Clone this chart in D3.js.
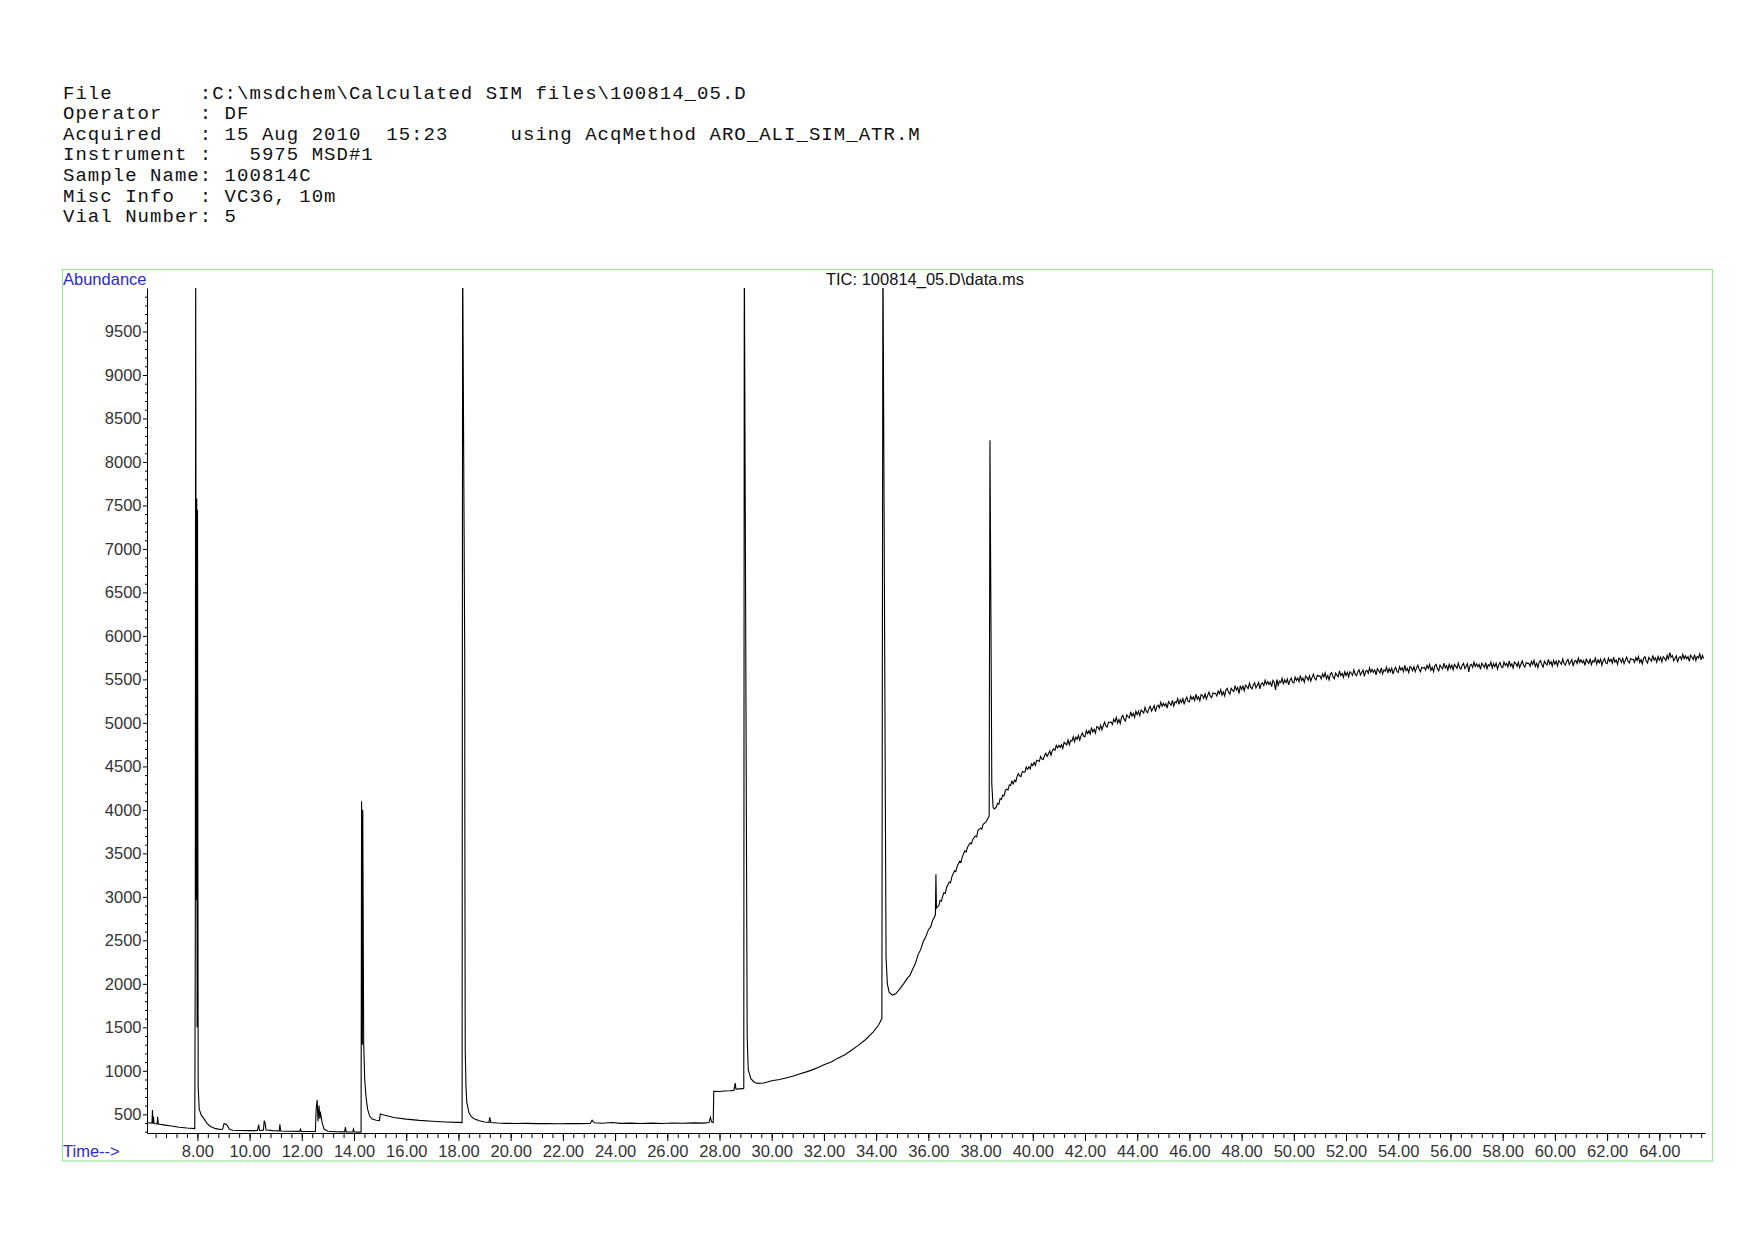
<!DOCTYPE html>
<html lang="en">
<head>
<meta charset="UTF-8">
<title>TIC: 100814_05.D\data.ms</title>
<script src="https://cdn.jsdelivr.net/npm/d3@7"></script>
<style>
  body { margin: 0; background: #fff; }
  svg text { font-family: "Liberation Sans", Arial, sans-serif; }
  .header text { font-family: "Liberation Mono", "Courier New", monospace; white-space: pre; }
</style>
</head>
<body>
<svg id="chart" width="1754" height="1240"></svg>
<script>
// report header
const headerLines = [
  "File       :C:\\msdchem\\Calculated SIM files\\100814_05.D",
  "Operator   : DF",
  "Acquired   : 15 Aug 2010  15:23     using AcqMethod ARO_ALI_SIM_ATR.M",
  "Instrument :   5975 MSD#1",
  "Sample Name: 100814C",
  "Misc Info  : VC36, 10m",
  "Vial Number: 5"
];
const plotTitle = "TIC: 100814_05.D\\data.ms";

// axis ticks
const yLabels = [500, 1000, 1500, 2000, 2500, 3000, 3500, 4000, 4500, 5000, 5500, 6000, 6500, 7000, 7500, 8000, 8500, 9000, 9500];
const xLabels = [8, 10, 12, 14, 16, 18, 20, 22, 24, 26, 28, 30, 32, 34, 36, 38, 40, 42, 44, 46, 48, 50, 52, 54, 56, 58, 60, 62, 64];

// scans: [time (min), abundance], 6.07 -> 38.53 min
const earlyScans = [
  [6.07, 405], [6.18, 400], [6.26, 398], [6.28, 550], [6.30, 396], [6.32, 470], [6.34, 394],
  [6.46, 390], [6.48, 472], [6.50, 388], [6.7, 378], [7.0, 365], [7.3, 352], [7.6, 342], [7.9, 335],
  [7.92, 2510], [7.935, 10500], [7.96, 2960], [7.975, 7580], [7.99, 1500], [8.005, 7450], [8.03, 820],
  [8.07, 560], [8.15, 490], [8.25, 450], [8.37, 395], [8.5, 360], [8.7, 335], [8.9, 325],
  [8.97, 330], [9.02, 392], [9.1, 385], [9.15, 370], [9.22, 330], [9.35, 316], [9.6, 314], [10.0, 312],
  [10.3, 313], [10.35, 380], [10.38, 314], [10.53, 318], [10.56, 427], [10.6, 390], [10.63, 320],
  [10.9, 312], [11.14, 310], [11.16, 385], [11.19, 308], [11.5, 305], [11.92, 304], [11.95, 330],
  [11.98, 303], [12.3, 302], [12.52, 302],
  [12.55, 560], [12.59, 664], [12.62, 420], [12.66, 600], [12.69, 450], [12.71, 530], [12.77, 415],
  [12.85, 330], [13.0, 305], [13.3, 300], [13.64, 298], [13.67, 354], [13.7, 298], [13.95, 296],
  [13.98, 330], [14.01, 296], [14.27, 295],
  [14.29, 4100], [14.32, 1300], [14.335, 4000], [14.37, 1320], [14.41, 900], [14.46, 700], [14.52, 560],
  [14.6, 480], [14.7, 445], [14.85, 432], [14.97, 428], [15.01, 504], [15.1, 495], [15.3, 480],
  [15.52, 464], [16.0, 445], [16.5, 430], [17.0, 420], [17.5, 412], [18.0, 407], [18.14, 405],
  [18.16, 10500], [18.24, 5800], [18.245, 3840], [18.26, 1230], [18.29, 800], [18.32, 640], [18.4, 520],
  [18.5, 470], [18.6, 450], [18.8, 425], [19.0, 412], [19.17, 408], [19.2, 465], [19.24, 406],
  [19.5, 400], [19.8, 396], [20.2, 394], [20.6, 396], [21.0, 393], [21.4, 395], [21.8, 392],
  [22.2, 394], [22.6, 393], [23.05, 395], [23.12, 433], [23.2, 402], [23.5, 397], [23.9, 405],
  [24.2, 396], [24.6, 398], [25.0, 394], [25.4, 399], [25.8, 395], [26.2, 400], [26.6, 397],
  [27.0, 401], [27.4, 398], [27.6, 405], [27.65, 464], [27.7, 410], [27.76, 405],
  [27.78, 763], [28.0, 762], [28.2, 768], [28.4, 770], [28.55, 775], [28.6, 858], [28.63, 790],
  [28.9, 795], [28.93, 800],
  [28.95, 10500], [29.06, 1400], [29.1, 1016], [29.2, 910], [29.33, 869], [29.45, 855], [29.7, 860],
  [30.0, 885], [30.3, 900], [30.5, 915], [30.8, 938], [31.0, 958], [31.3, 985], [31.5, 1005],
  [31.8, 1040], [32.0, 1070], [32.3, 1105], [32.5, 1140], [32.8, 1185], [33.0, 1225], [33.3, 1290],
  [33.6, 1360], [33.9, 1450], [34.1, 1530], [34.22, 1600],
  [34.26, 10500], [34.36, 3610], [34.38, 2300], [34.43, 2000], [34.5, 1900], [34.62, 1870],
  [34.75, 1885], [34.9, 1940], [35.05, 2000], [35.2, 2065], [35.3, 2100], [35.4, 2170], [35.5, 2230],
  [35.6, 2330], [35.7, 2390], [35.8, 2480], [35.9, 2540], [36.0, 2620], [36.1, 2660], [36.15, 2720],
  [36.27, 2790], [36.29, 3260], [36.31, 2870], [36.4, 2900], [36.45, 2960], [36.5, 2950], [36.55, 3010],
  [36.6, 3050], [36.65, 3040], [36.7, 3110], [36.8, 3170], [36.85, 3160], [36.9, 3230], [37.0, 3300],
  [37.05, 3290], [37.1, 3350], [37.2, 3410], [37.25, 3400], [37.3, 3460], [37.4, 3530], [37.45, 3515],
  [37.5, 3570], [37.6, 3620], [37.65, 3610], [37.7, 3660], [37.8, 3700], [37.85, 3690], [37.9, 3765],
  [38.0, 3790], [38.05, 3780], [38.1, 3835], [38.2, 3860], [38.28, 3900], [38.33, 3930],
  [38.36, 8250], [38.41, 5550], [38.43, 4300], [38.48, 4030], [38.53, 4010]
];

// noisy tail, one reading every 0.05 min from 38.60 min (one line per minute)
const tailStart = 38.6;
const tailStep = 0.05;
const tailAbund = [
  4030, 4075, 4065, 4130, 4120, 4170, 4160, 4225,
  4237, 4230, 4287, 4280, 4330, 4299, 4342, 4324, 4388, 4417, 4389, 4384, 4442, 4436, 4434, 4492, 4465, 4495, 4471, 4529,
  4508, 4546, 4513, 4571, 4565, 4556, 4614, 4584, 4579, 4625, 4652, 4614, 4644, 4679, 4629, 4683, 4702, 4684, 4742, 4712,
  4742, 4719, 4749, 4707, 4777, 4763, 4748, 4805, 4749, 4797, 4791, 4840, 4784, 4837, 4812, 4856, 4802, 4854, 4884, 4846,
  4840, 4912, 4878, 4910, 4871, 4948, 4895, 4926, 4883, 4959, 4951, 4922, 4974, 4921, 4967, 5009, 4965, 4952, 5009, 5005,
  5010, 4981, 5041, 5012, 5062, 4998, 5038, 4994, 5064, 5085, 5040, 5021, 5091, 5072, 5057, 5128, 5078, 5109, 5064, 5135,
  5095, 5135, 5084, 5149, 5133, 5113, 5178, 5132, 5117, 5166, 5191, 5136, 5165, 5200, 5129, 5189, 5204, 5173, 5238, 5192,
  5225, 5194, 5222, 5171, 5244, 5223, 5202, 5260, 5194, 5242, 5231, 5280, 5213, 5267, 5235, 5279, 5213, 5266, 5295, 5248,
  5240, 5308, 5271, 5299, 5257, 5330, 5273, 5301, 5254, 5327, 5315, 5283, 5331, 5274, 5317, 5355, 5308, 5291, 5344, 5337,
  5340, 5309, 5367, 5336, 5384, 5318, 5357, 5310, 5379, 5397, 5351, 5330, 5398, 5377, 5360, 5429, 5378, 5406, 5335, 5428,
  5385, 5423, 5370, 5433, 5415, 5393, 5455, 5408, 5390, 5438, 5460, 5403, 5430, 5463, 5390, 5448, 5460, 5428, 5490, 5443,
  5475, 5442, 5469, 5416, 5488, 5465, 5380, 5499, 5431, 5478, 5465, 5512, 5444, 5496, 5463, 5505, 5437, 5489, 5516, 5468,
  5460, 5527, 5489, 5516, 5473, 5545, 5487, 5514, 5466, 5538, 5525, 5492, 5539, 5481, 5523, 5560, 5512, 5494, 5546, 5538,
  5540, 5506, 5563, 5529, 5576, 5507, 5544, 5495, 5562, 5578, 5530, 5506, 5573, 5549, 5531, 5597, 5544, 5570, 5522, 5588,
  5545, 5581, 5528, 5589, 5571, 5547, 5609, 5560, 5542, 5588, 5610, 5551, 5578, 5609, 5536, 5592, 5604, 5570, 5632, 5583,
  5615, 5581, 5607, 5553, 5624, 5600, 5576, 5632, 5563, 5609, 5595, 5641, 5572, 5623, 5589, 5630, 5561, 5612, 5638, 5589,
  5580, 5646, 5607, 5633, 5589, 5660, 5601, 5627, 5578, 5649, 5635, 5601, 5647, 5588, 5629, 5665, 5616, 5587, 5638, 5629,
  5640, 5606, 5661, 5627, 5673, 5604, 5639, 5590, 5656, 5672, 5622, 5598, 5664, 5640, 5620, 5686, 5632, 5658, 5608, 5674,
  5630, 5665, 5611, 5671, 5652, 5627, 5688, 5638, 5619, 5664, 5685, 5625, 5651, 5681, 5587, 5662, 5673, 5638, 5699, 5649,
  5680, 5645, 5671, 5616, 5687, 5662, 5638, 5693, 5624, 5669, 5655, 5700, 5631, 5681, 5647, 5687, 5618, 5668, 5694, 5644,
  5635, 5700, 5661, 5686, 5642, 5712, 5653, 5678, 5629, 5699, 5685, 5650, 5696, 5636, 5677, 5712, 5663, 5643, 5694, 5684,
  5685, 5651, 5706, 5672, 5718, 5649, 5684, 5635, 5701, 5717, 5667, 5643, 5709, 5685, 5665, 5731, 5677, 5703, 5653, 5719,
  5675, 5710, 5656, 5716, 5697, 5672, 5733, 5683, 5664, 5709, 5730, 5670, 5696, 5726, 5652, 5707, 5718, 5683, 5744, 5694,
  5725, 5690, 5716, 5661, 5732, 5707, 5683, 5738, 5669, 5714, 5700, 5745, 5676, 5726, 5692, 5732, 5663, 5713, 5739, 5689,
  5680, 5745, 5706, 5731, 5687, 5757, 5698, 5723, 5674, 5744, 5730, 5695, 5741, 5681, 5722, 5757, 5708, 5688, 5739, 5729,
  5730, 5696, 5751, 5717, 5763, 5694, 5729, 5680, 5746, 5762, 5712, 5688, 5754, 5730, 5710, 5776, 5722, 5748, 5698, 5764,
  5720, 5755, 5701, 5761, 5742, 5717, 5778, 5728, 5809, 5754, 5775, 5715, 5741, 5771, 5697, 5752, 5763, 5728, 5789, 5739,
  5770, 5736, 5761, 5707, 5778, 5754, 5729, 5785, 5716, 5762, 5747, 5793, 5724, 5775, 5740
];

const scans = earlyScans.concat(tailAbund.map((v, i) => [tailStart + i * tailStep, v]));

const svg = d3.select("#chart");

// header block
svg.append("g").attr("class", "header")
  .selectAll("text")
  .data(headerLines)
  .enter()
  .append("text")
  .attr("x", 63)
  .attr("y", (d, i) => 98.5 + i * 20.65)
  .attr("font-size", 19)
  .attr("letter-spacing", 1.03)
  .attr("fill", "#111")
  .text(d => d);

// green frame
svg.append("rect")
  .attr("x", 62.5).attr("y", 269.5)
  .attr("width", 1650).attr("height", 891.5)
  .attr("fill", "none")
  .attr("stroke", "#9be69b")
  .attr("stroke-width", 1.2);

const x = d3.scaleLinear().domain([6.07, 65.75]).range([147, 1705]);
const y = d3.scaleLinear().domain([285, 10000]).range([1133, 288]);

// minor ticks
const xMinor = d3.range(6.4, 65.75, 0.4);
const yMinor = d3.range(300, 10000, 100).filter(v => v % 500 !== 0);

svg.append("g")
  .attr("transform", "translate(0,1133)")
  .call(d3.axisBottom(x).tickValues(xMinor).tickSize(5).tickFormat(""))
  .call(g => g.select(".domain").remove())
  .call(g => g.selectAll("line").attr("stroke", "#000"));

svg.append("g")
  .attr("transform", "translate(147,0)")
  .call(d3.axisLeft(y).tickValues(yMinor).tickSize(2).tickFormat(""))
  .call(g => g.select(".domain").remove())
  .call(g => g.selectAll("line").attr("stroke", "#000"));

// major axes
svg.append("g")
  .attr("transform", "translate(0,1133)")
  .call(d3.axisBottom(x).tickValues(xLabels).tickSize(8).tickSizeOuter(0).tickPadding(4)
    .tickFormat(d3.format(".2f")))
  .call(g => g.select(".domain").attr("stroke", "#000"))
  .call(g => g.selectAll("text").attr("font-size", 16.5).attr("fill", "#333")
    .attr("font-family", "Liberation Sans, Arial, sans-serif"));

svg.append("g")
  .attr("transform", "translate(147,0)")
  .call(d3.axisLeft(y).tickValues(yLabels).tickSize(4).tickSizeOuter(0).tickPadding(1.5)
    .tickFormat(d3.format("d")))
  .call(g => g.select(".domain").attr("stroke", "#000"))
  .call(g => g.selectAll("text").attr("font-size", 16.5).attr("fill", "#333")
    .attr("font-family", "Liberation Sans, Arial, sans-serif"));

// labels
svg.append("text").attr("x", 63).attr("y", 284.5)
  .attr("font-size", 16.5).attr("fill", "#2b2bd0").text("Abundance");
svg.append("text").attr("x", 63).attr("y", 1157)
  .attr("font-size", 16.5).attr("fill", "#2b2bd0").text("Time-->");
svg.append("text").attr("x", 925).attr("y", 284.5)
  .attr("text-anchor", "middle")
  .attr("font-size", 16.5).attr("fill", "#111").text(plotTitle);

// trace, clipped to the plot box (peaks run off the top)
svg.append("clipPath").attr("id", "plotClip")
  .append("rect")
  .attr("x", 147).attr("y", 288)
  .attr("width", 1558).attr("height", 845);

const line = d3.line()
  .x(d => x(d[0]))
  .y(d => y(d[1]));

svg.append("path")
  .datum(scans)
  .attr("clip-path", "url(#plotClip)")
  .attr("fill", "none")
  .attr("stroke", "#000")
  .attr("stroke-width", 1.1)
  .attr("d", line);
</script>
</body>
</html>
